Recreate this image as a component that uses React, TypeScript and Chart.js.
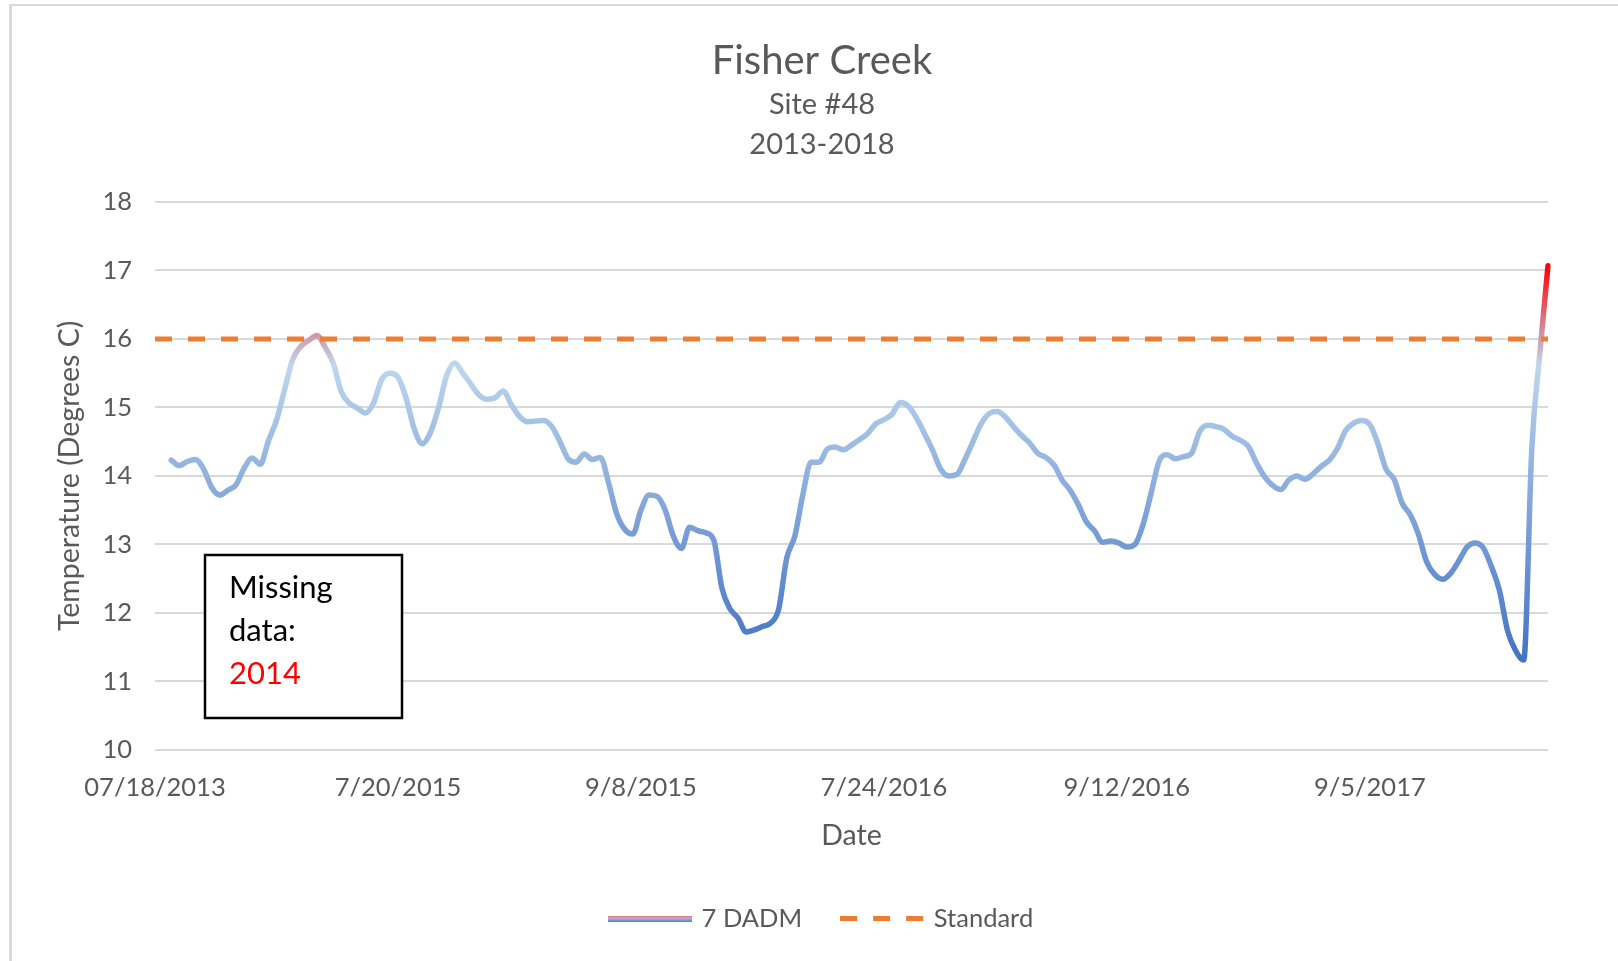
import React, { useEffect, useRef } from "react";
import { Chart, registerables } from "chart.js";

Chart.register(...registerables);

// ---------- data ----------
const chartTitle = "Fisher Creek";
const chartSubtitle = ["Site #48", "2013-2018"];
const yAxisTitle = "Temperature (Degrees C)";
const xAxisTitle = "Date";
const seriesName = "7 DADM";
const standardName = "Standard";

const tickLabels = ["07/18/2013", "7/20/2015", "9/8/2015", "7/24/2016", "9/12/2016", "9/5/2017"];
const tickEvery = 30;

const yMin = 10;
const yMax = 18;
const yStep = 1;

const standardValue = 16;

// 7-day average daily maximum (°C)
const dadm: (number | null)[] = [
  null, null, 14.23, 14.15, 14.21, 14.24, 14.1, 13.83, 13.72, 13.79,
  13.87, 14.11, 14.26, 14.17, 14.51, 14.81, 15.26, 15.7, 15.89, 15.98,
  16.05, 15.88, 15.65, 15.23, 15.06, 14.99, 14.92, 15.07, 15.41, 15.5,
  15.44, 15.14, 14.69, 14.47, 14.63, 14.99, 15.46, 15.65, 15.5, 15.34,
  15.18, 15.12, 15.14, 15.24, 15.04, 14.87, 14.79, 14.8, 14.81, 14.72,
  14.5, 14.25, 14.2, 14.32, 14.24, 14.27, 13.9, 13.45, 13.22, 13.15,
  13.5, 13.72, 13.7, 13.5, 13.12, 12.94, 13.25, 13.2, 13.17, 13.06,
  12.36, 12.06, 11.92, 11.72, 11.75, 11.8, 11.85, 12.05, 12.8, 13.12,
  13.73, 14.2, 14.2, 14.39, 14.42, 14.38, 14.45, 14.53, 14.62, 14.76,
  14.82, 14.9, 15.07, 15.02, 14.85, 14.62, 14.38, 14.1, 14.0, 14.02,
  14.24, 14.5, 14.76, 14.91, 14.94, 14.86, 14.72, 14.59, 14.48, 14.33,
  14.27, 14.16, 13.94, 13.79, 13.58, 13.33, 13.2, 13.03, 13.05, 13.02,
  12.96, 13.0, 13.29, 13.75, 14.22, 14.31, 14.25, 14.28, 14.33, 14.65,
  14.74, 14.72, 14.68, 14.58, 14.52, 14.43, 14.19, 13.99, 13.86, 13.8,
  13.94, 14.0, 13.95, 14.03, 14.14, 14.23, 14.4, 14.66, 14.77, 14.81,
  14.75, 14.47, 14.1, 13.95, 13.6, 13.43, 13.15, 12.75, 12.56, 12.49,
  12.58, 12.76, 12.96, 13.02, 12.95, 12.68, 12.33, 11.74, 11.45, 11.31,
  14.4, 15.8, 17.07,
];

const noteLines = ["Missing", "data:", "2014"];

// ---------- styling ----------
const FONT = "Lato, 'Open Sans', 'Liberation Sans', sans-serif";
const TEXT = "#595959";
const GRID = "#D9D9D9";
const ORANGE = "#ED7D31";
const BLUE_DARK = "#4472C4";
const BLUE_LIGHT = "#BDD7EE";
const RED = "#FF0000";

const CANVAS_W = 1644;
const CANVAS_H = 961;

function makeLegendLine(): HTMLCanvasElement {
  const c = document.createElement("canvas");
  c.width = 84;
  c.height = 6;
  const g = c.getContext("2d")!;
  const grad = g.createLinearGradient(0, 0, 0, 6);
  grad.addColorStop(0, "#E8707C");
  grad.addColorStop(0.45, "#C9A9C9");
  grad.addColorStop(0.55, "#8FB2E0");
  grad.addColorStop(1, "#4F7FCC");
  g.fillStyle = grad;
  g.fillRect(0, 0, 84, 6);
  return c;
}

function makeLegendDash(): HTMLCanvasElement {
  const c = document.createElement("canvas");
  c.width = 84;
  c.height = 5;
  const g = c.getContext("2d")!;
  g.fillStyle = ORANGE;
  [0, 33, 66].forEach((x) => g.fillRect(x, 0, 17, 5));
  return c;
}

export default function App() {
  const canvasRef = useRef<HTMLCanvasElement | null>(null);

  useEffect(() => {
    document.body.style.margin = "0";
    document.body.style.overflow = "hidden";
    const canvas = canvasRef.current;
    if (!canvas) return;

    const categories = dadm.map((_, i) =>
      i % tickEvery === 0 && tickLabels[i / tickEvery] !== undefined ? tickLabels[i / tickEvery] : ""
    );
    const standard = dadm.map(() => standardValue);
    const valid = dadm.filter((v): v is number => v !== null);
    const vMax = Math.max(...valid);
    const vMin = Math.min(...valid);

    const legendLine = makeLegendLine();
    const legendDash = makeLegendDash();

    const notePlugin = {
      id: "missingNote",
      afterDraw(chart: any) {
        const ctx = chart.ctx as CanvasRenderingContext2D;
        ctx.save();
        ctx.fillStyle = "#FFFFFF";
        ctx.fillRect(205, 555, 197, 163);
        ctx.strokeStyle = "#000000";
        ctx.lineWidth = 2.5;
        ctx.strokeRect(205, 555, 197, 163);
        ctx.font = `31px ${FONT}`;
        ctx.textBaseline = "alphabetic";
        ctx.textAlign = "left";
        const baselines = [598, 641, 684];
        noteLines.forEach((t, i) => {
          ctx.fillStyle = i === 2 ? RED : "#000000";
          ctx.fillText(t, 229, baselines[i]);
        });
        ctx.restore();
      },
    };

    const chart = new Chart(canvas, {
      type: "line",
      data: {
        labels: categories,
        datasets: [
          {
            label: seriesName,
            data: dadm,
            borderWidth: 5.5,
            pointRadius: 0,
            pointHoverRadius: 0,
            cubicInterpolationMode: "monotone",
            borderCapStyle: "round",
            borderJoinStyle: "round",
            fill: false,
            order: 1,
            borderColor: (context: any) => {
              const ch = context.chart;
              if (!ch.chartArea || !ch.scales.y) return BLUE_DARK;
              const ys = ch.scales.y;
              const top = ys.getPixelForValue(vMax);
              const bottom = ys.getPixelForValue(vMin);
              const grad = ch.ctx.createLinearGradient(0, top, 0, bottom);
              grad.addColorStop(0, RED);
              grad.addColorStop(0.25, BLUE_LIGHT);
              grad.addColorStop(1, BLUE_DARK);
              return grad;
            },
          },
          {
            label: standardName,
            data: standard,
            borderColor: ORANGE,
            borderWidth: 5,
            borderDash: [17, 16],
            pointRadius: 0,
            pointHoverRadius: 0,
            tension: 0,
            fill: false,
            order: 0,
          },
        ],
      },
      options: {
        responsive: false,
        animation: false,
        events: [],
        layout: { padding: { left: 0, right: 0, top: 0, bottom: 19.5 } },
        plugins: {
          tooltip: { enabled: false },
          title: {
            display: true,
            text: chartTitle,
            color: TEXT,
            font: { family: FONT, size: 40, weight: "normal", lineHeight: 1.2 },
            padding: { top: 37, bottom: 0 },
          },
          subtitle: {
            display: true,
            text: chartSubtitle,
            color: TEXT,
            font: { family: FONT, size: 29, weight: "normal", lineHeight: 40 / 29 },
            padding: { top: 0, bottom: 37 },
          },
          legend: {
            display: true,
            position: "bottom",
            labels: {
              usePointStyle: true,
              pointStyleWidth: 78,
              padding: 41,
              color: TEXT,
              font: { family: FONT, size: 25.5 },
              generateLabels: () => [
                {
                  text: seriesName,
                  pointStyle: legendLine as any,
                  fillStyle: "rgba(0,0,0,0)",
                  strokeStyle: "rgba(0,0,0,0)",
                  lineWidth: 0,
                  hidden: false,
                  datasetIndex: 0,
                  fontColor: TEXT,
                },
                {
                  text: standardName,
                  pointStyle: legendDash as any,
                  fillStyle: "rgba(0,0,0,0)",
                  strokeStyle: "rgba(0,0,0,0)",
                  lineWidth: 0,
                  hidden: false,
                  datasetIndex: 1,
                  fontColor: TEXT,
                },
              ],
            },
          },
        },
        scales: {
          x: {
            type: "category",
            offset: false,
            grid: { display: false, drawTicks: false },
            border: { display: false },
            ticks: {
              autoSkip: false,
              maxRotation: 0,
              minRotation: 0,
              padding: 23,
              color: TEXT,
              font: { family: FONT, size: 25.5 },
            },
            title: {
              display: true,
              text: xAxisTitle,
              color: TEXT,
              font: { family: FONT, size: 28.5, lineHeight: 1.2 },
              padding: { top: 0, bottom: 12 },
            },
            afterFit: (scale: any) => {
              scale.height = 115.25;
            },
          },
          y: {
            type: "linear",
            position: "left",
            min: yMin,
            max: yMax,
            grid: { color: GRID, lineWidth: 2, drawTicks: false },
            border: { display: false },
            ticks: {
              stepSize: yStep,
              padding: 23,
              color: TEXT,
              font: { family: FONT, size: 25.5 },
            },
            title: {
              display: true,
              text: yAxisTitle,
              color: TEXT,
              font: { family: FONT, size: 28.5, lineHeight: 1.2 },
              padding: { top: 53, bottom: 0 },
            },
            afterFit: (scale: any) => {
              scale.width = 155;
            },
          },
          yRight: {
            type: "linear",
            position: "right",
            display: true,
            grid: { display: false, drawTicks: false },
            border: { display: false },
            ticks: { display: false },
            afterFit: (scale: any) => {
              scale.width = CANVAS_W - 1548;
            },
          },
        },
      },
      plugins: [notePlugin],
    } as any);

    return () => {
      chart.destroy();
    };
  }, []);

  return (
    <div style={{ position: "relative", width: 1618, height: 961, overflow: "hidden", background: "#FFFFFF" }}>
      <div
        style={{
          position: "absolute",
          left: 9,
          top: 4,
          width: 1700,
          height: 1100,
          borderTop: `2px solid ${GRID}`,
          borderLeft: `3px solid ${GRID}`,
        }}
      />
      <canvas
        ref={canvasRef}
        width={CANVAS_W}
        height={CANVAS_H}
        style={{ position: "absolute", left: 0, top: 0, width: CANVAS_W, height: CANVAS_H }}
      />
    </div>
  );
}
